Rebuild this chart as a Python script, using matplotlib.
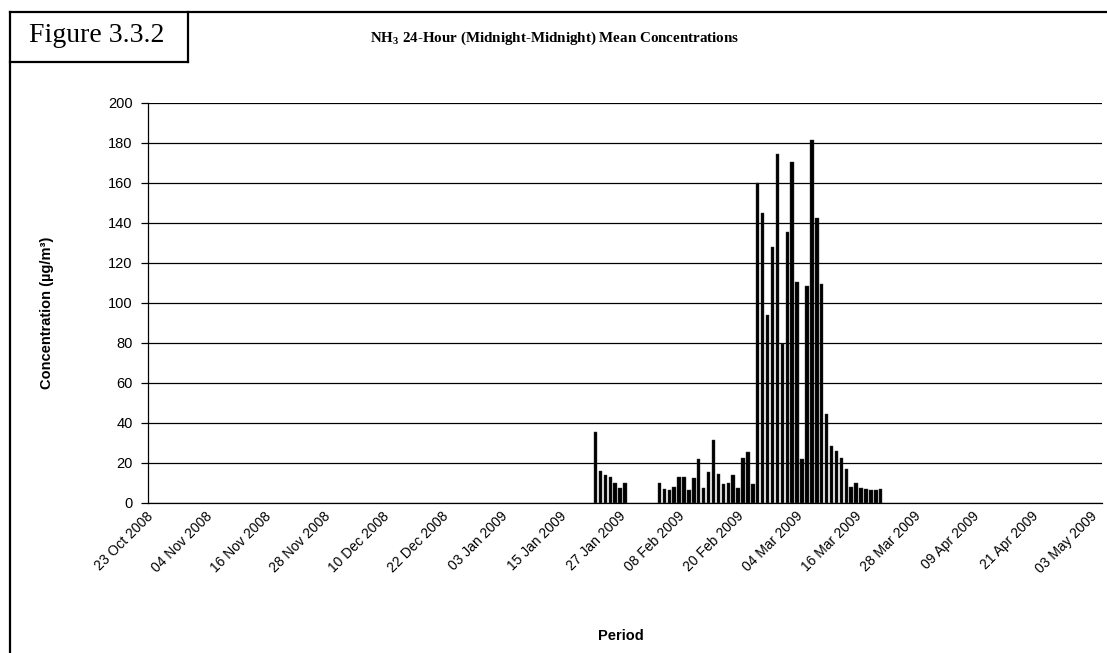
import matplotlib
matplotlib.use("Agg")
import matplotlib.pyplot as plt
import numpy as np
import pandas as pd
from matplotlib.lines import Line2D
from matplotlib.transforms import ScaledTranslation

plt.rcParams["mathtext.fontset"] = "custom"
plt.rcParams["mathtext.rm"] = "Liberation Serif"
plt.rcParams["mathtext.bf"] = "Liberation Serif:bold"

# ---------------- data ----------------
first_day = "2009-01-22"
nan = np.nan
concentrations = [35.5, 16, 14, 13, 10, 7.5, 10,
                  nan, nan, nan, nan, nan, nan,
                  10, 7, 6.5, 8, 13, 13, 6.5, 12.5, 22, 7.5,
                  15.5, 31.5, 14.5, 9.5, 10, 14, 7.5, 22.5, 25.5, 9.5,
                  160, 145, 94, 128, 174.5, 79.5, 135.5, 170.5, 110.5, 22,
                  108.5, 181.5, 142.5, 109.5, 44.5, 28.5, 26, 22.5, 17, 8,
                  10, 7.5, 7, 6.5, 6.5, 7]
tick_labels = ["23 Oct 2008", "04 Nov 2008", "16 Nov 2008", "28 Nov 2008",
               "10 Dec 2008", "22 Dec 2008", "03 Jan 2009", "15 Jan 2009",
               "27 Jan 2009", "08 Feb 2009", "20 Feb 2009", "04 Mar 2009",
               "16 Mar 2009", "28 Mar 2009", "09 Apr 2009", "21 Apr 2009",
               "03 May 2009"]
y_ticks = [0, 20, 40, 60, 80, 100, 120, 140, 160, 180, 200]
title_text = r"NH$_{\mathbf{3}}$ 24-Hour (Midnight-Midnight) Mean Concentrations"
figure_tag = "Figure 3.3.2"
y_label = "Concentration (µg/m³)"
x_label = "Period"

dates = pd.date_range(first_day, periods=len(concentrations), freq="D")
tick_dates = pd.to_datetime(tick_labels, format="%d %b %Y")

# ---------------- figure ----------------
W, H = 1107, 653
fig = plt.figure(figsize=(W / 100, H / 100), dpi=100)
fig.patch.set_facecolor("white")

ax = fig.add_axes([148 / W, 1 - 503 / H, 954 / W, 400 / H])
ax.bar(dates, concentrations, width=0.7, color="black",
       edgecolor="#333333", linewidth=0.3, zorder=3)

ax.set_xlim(tick_dates[0], tick_dates[0] + pd.Timedelta(days=194))
ax.set_ylim(0, 200)
ax.set_yticks(y_ticks)
ax.yaxis.grid(True, color="black", linewidth=0.9)
ax.set_axisbelow(True)

for s in ["top", "right"]:
    ax.spines[s].set_visible(False)
for s in ["left", "bottom"]:
    ax.spines[s].set_color("black")
    ax.spines[s].set_linewidth(0.9)

ax.tick_params(axis="y", direction="out", length=5, width=0.9, pad=6,
               labelsize=10.5, labelfontfamily="Liberation Sans")
ax.set_xticks(tick_dates)
ax.set_xticklabels(tick_labels, fontsize=10, family="Liberation Sans")
ax.tick_params(axis="x", length=0, pad=8)
offset = ScaledTranslation(0.03, 0, fig.dpi_scale_trans)
for lab in ax.get_xticklabels():
    lab.set_rotation(45)
    lab.set_ha("right")
    lab.set_va("center")
    lab.set_rotation_mode("anchor")
    lab.set_transform(lab.get_transform() + offset)

fig.text(47 / W, 1 - 313 / H, y_label, rotation=90, ha="center", va="center",
         fontsize=10.5, fontweight="bold", family="Liberation Sans")
fig.text(621 / W, 1 - 636 / H, x_label, ha="center", va="center",
         fontsize=10.5, fontweight="bold", family="Liberation Sans")

fig.text(555 / W, 1 - 38 / H, title_text, ha="center", va="center",
         fontsize=10.8, fontweight="bold", family="Liberation Serif")
fig.text(97 / W, 1 - 36 / H, figure_tag, ha="center", va="center",
         fontsize=20, family="Liberation Serif")

# outer border and tag box
def fline(x0, y0, x1, y1, lw=1.6):
    fig.add_artist(Line2D([x0 / W, x1 / W], [1 - y0 / H, 1 - y1 / H],
                          transform=fig.transFigure, color="black",
                          linewidth=lw, solid_capstyle="projecting"))

fline(10, 12, W + 5, 12)
fline(10, 12, 10, H + 5)
fline(188, 12, 188, 62)
fline(10, 62, 188, 62)

fig.savefig("out.png", dpi=100, facecolor="white")
